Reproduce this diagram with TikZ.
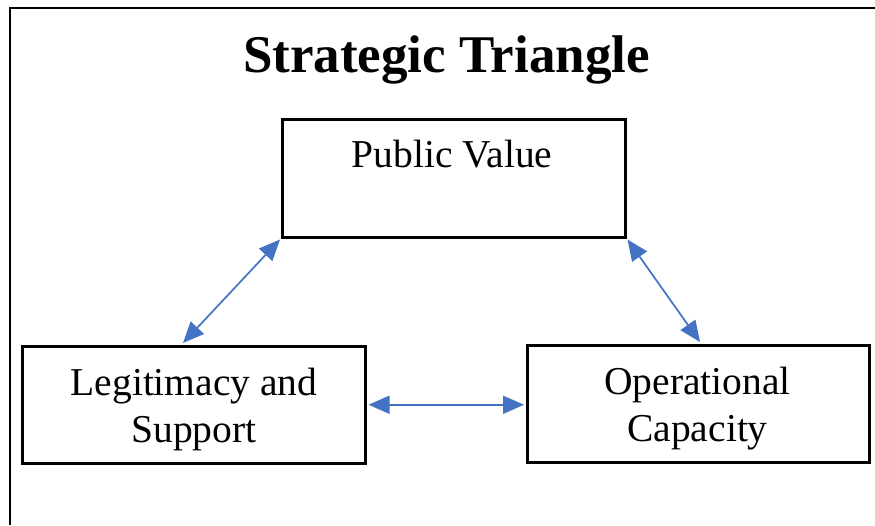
\documentclass[tikz,border=0pt]{standalone}
\usepackage{fontspec}
\setmainfont{Liberation Serif}
\usetikzlibrary{arrows.meta}
\definecolor{linkblue}{RGB}{68,114,196}
\tikzset{
  box/.style={draw=black, line width=2.5pt, anchor=north west, inner sep=0pt},
  label/.style={font=\fontsize{39.5}{47}\selectfont, align=center, inner sep=0pt},
  link/.style={draw=linkblue, line width=1.7pt, {Triangle[length=21pt,width=18pt]}-{Triangle[length=21pt,width=18pt]}}
}
\begin{document}
\begin{tikzpicture}[x=1pt,y=-1pt]
  \useasboundingbox (0,0) rectangle (875,525);
  \fill[white] (0,0) rectangle (875,525);
  % outer frame, open to the right and bottom
  \draw[line width=2.5pt] (10,525) -- (10,8) -- (875,8);
  % title
  \node[font=\bfseries\fontsize{53}{60}\selectfont, anchor=base] (title) at (446.5,72) {Strategic Triangle};
  % the three corners of the triangle
  \node[box, minimum width=343pt, minimum height=118pt] (pv) at (281,118) {};
  \node[box, minimum width=343pt, minimum height=117pt] (ls) at (21,345) {};
  \node[box, minimum width=342pt, minimum height=117pt] (oc) at (526,344) {};
  % labels (base = baseline of the last line)
  \node[label, anchor=base] (pvtext) at (452,167) {Public Value};
  \node[label, anchor=base] (lstext) at (194,442) {Legitimacy and\\Support};
  \node[label, anchor=base] (octext) at (697.5,441) {Operational\\Capacity};
  % two-way links
  \draw[link] ([xshift=-1pt,yshift=-1pt]pv.south west) -- ([xshift=162pt,yshift=2pt]ls.north west);
  \draw[link] ([xshift=1pt,yshift=-1pt]pv.south east) -- ([xshift=174pt,yshift=2pt]oc.north west);
  \draw[link] ([xshift=2pt]ls.east) -- ([xshift=-2pt]ls.east -| oc.west);
\end{tikzpicture}
\end{document}
